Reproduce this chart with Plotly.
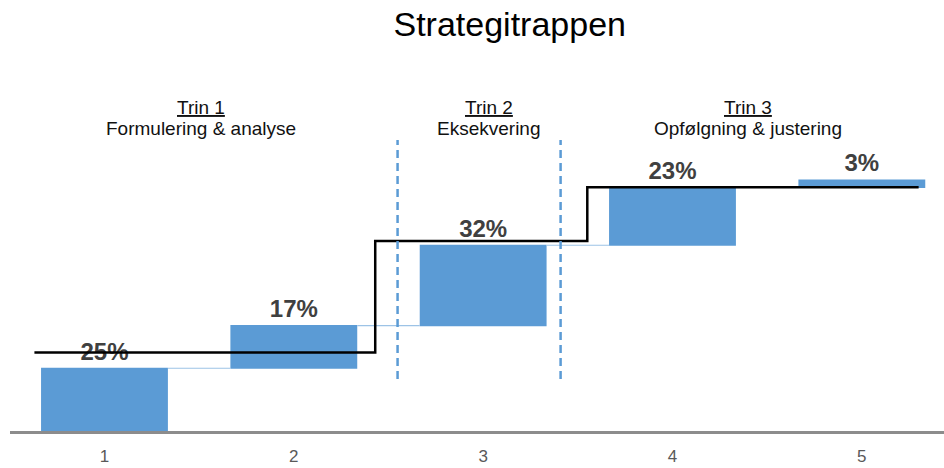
import plotly.graph_objects as go

# --- data ---
steps = [1, 2, 3, 4, 5]
step_values = [25, 17, 32, 23, 3]
value_labels = [f"{v}%" for v in step_values]

target_x = [0.63, 2.43, 3.55, 5.30]
target_y = [31.3, 75.7, 97.1, 97.1]

divider_x = [2.548, 3.409]
divider_y = [20.7, 115.9]

phase_x = [1.51, 3.03, 4.40]
phase_titles = ["Trin 1", "Trin 2", "Trin 3"]
phase_names = ["Formulering & analyse", "Eksekvering", "Opfølgning & justering"]

BLUE = "#5B9BD5"
FONT = "Liberation Sans, Arial, sans-serif"

fig = go.Figure()

fig.add_trace(go.Waterfall(
    x=steps,
    y=step_values,
    measure=["relative"] * len(steps),
    width=0.67,
    text=[f"<b>{t}</b>" for t in value_labels],
    textposition="outside",
    textfont=dict(family=FONT, size=24, color="#404040"),
    increasing=dict(marker=dict(color=BLUE, line=dict(width=0))),
    connector=dict(mode="between", line=dict(color="#9DC3E6", width=1.2)),
    cliponaxis=False,
    hoverinfo="skip",
    showlegend=False,
))

fig.add_trace(go.Scatter(
    x=target_x,
    y=target_y,
    mode="lines",
    line=dict(color="black", width=2.5, shape="hv"),
    hoverinfo="skip",
    showlegend=False,
))

for dx in divider_x:
    fig.add_shape(type="line", xref="x", yref="y",
                  x0=dx, x1=dx, y0=divider_y[0], y1=divider_y[1],
                  line=dict(color=BLUE, width=2.5, dash="8px,5px"))

for px, tt, nm in zip(phase_x, phase_titles, phase_names):
    fig.add_annotation(x=px, xref="x", y=129.0, yref="y", text=f"<u>{tt}</u>",
                       showarrow=False, yanchor="middle",
                       font=dict(family=FONT, size=19, color="#111111"))
    fig.add_annotation(x=px, xref="x", y=120.5, yref="y", text=nm,
                       showarrow=False, yanchor="middle",
                       font=dict(family=FONT, size=19, color="#111111"))

fig.update_layout(
    width=944, height=468,
    margin=dict(l=10, r=0, t=60, b=37, autoexpand=False),
    paper_bgcolor="white", plot_bgcolor="white",
    title=dict(text="Strategitrappen", x=0.540, xref="container", xanchor="center",
               y=1 - 24 / 468, yref="container", yanchor="middle",
               font=dict(family=FONT, size=34, color="black")),
    xaxis=dict(range=[0.501, 5.434], tickvals=steps, ticktext=[str(s) for s in steps],
               showgrid=False, zeroline=False, showline=True, linecolor="#8c8c8c", linewidth=3,
               ticks="", ticklabelstandoff=8, automargin=False,
               tickfont=dict(family=FONT, size=17, color="#595959")),
    yaxis=dict(range=[0, 147.8], visible=False, showgrid=False, zeroline=False, automargin=False),
)

fig.write_html("out.html",
               config={"displayModeBar": False},
               post_script="document.body.style.margin='0';document.body.style.overflow='hidden';")
